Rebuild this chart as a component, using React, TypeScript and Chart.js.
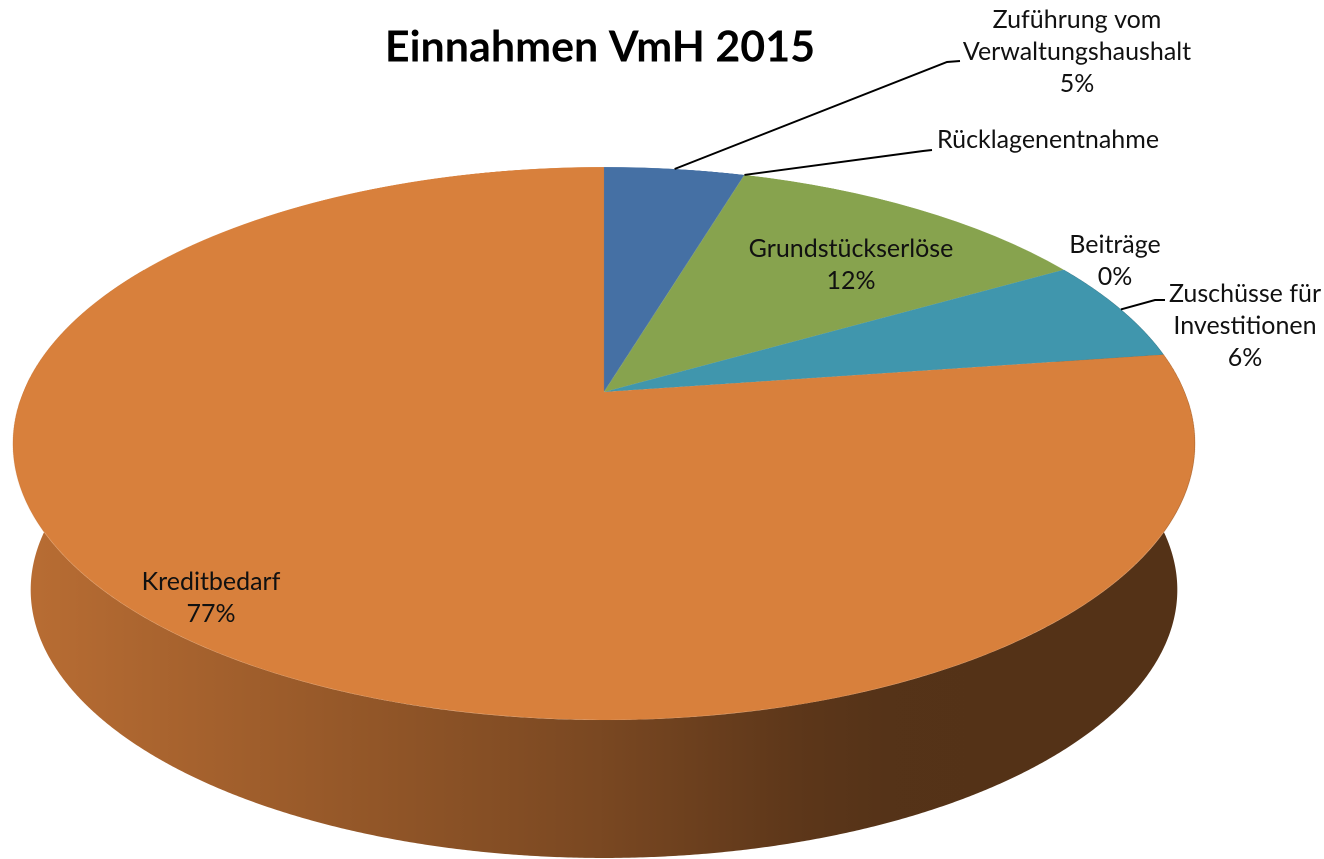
import React, { useEffect, useRef } from "react";
import { Chart, registerables } from "chart.js";

Chart.register(...registerables);

// ---------- data ----------
const chartTitle = "Einnahmen VmH 2015";
const categories = [
  "Zuführung vom Verwaltungshaushalt",
  "Rücklagenentnahme",
  "Grundstückserlöse",
  "Beiträge",
  "Zuschüsse für Investitionen",
  "Kreditbedarf",
];
const shares = [4.6, 0, 12.05, 0, 6.05, 77.3];
const labelLines = [
  ["Zuführung vom", "Verwaltungshaushalt"],
  ["Rücklagenentnahme"],
  ["Grundstückserlöse"],
  ["Beiträge"],
  ["Zuschüsse für", "Investitionen"],
  ["Kreditbedarf"],
];
const showPercent = [true, false, true, true, true, true];
const sliceColors = ["#4570A4", "#B84A47", "#87A34E", "#7D61A0", "#4096AD", "#D8803C"];

// ---------- view / styling ----------
const VIEW = { X0: 604, Y0: 392, Sx: 580.7, Sy: 266.9, k: 0.1863, bottomScale: 0.97, Y0b: 539.8 };
const WALL_FROM = Math.PI / 3;
const WALL_TO = (5 * Math.PI) / 3;
const WALL_SHADE: [number, number][] = [
  [0, 0.86],
  [0.285, 0.69],
  [0.497, 0.565],
  [0.666, 0.43],
  [0.742, 0.395],
  [1, 0.39],
];
const LABEL_FONT = "25px Lato";
const LINE_H = 32;
type Place = { cx: number; y: number; leader?: [number, number][] };
const LABEL_POS: Place[] = [
  { cx: 1077, y: 28, leader: [[947, 62], [960, 61]] },
  { cx: 1048, y: 148, leader: [[923, 151], [932, 150]] },
  { cx: 851, y: 257 },
  { cx: 1115, y: 253 },
  { cx: 1245, y: 302, leader: [[1155, 300], [1165, 300]] },
  { cx: 211, y: 590 },
];

function shade(hex: string, f: number) {
  const n = parseInt(hex.slice(1), 16);
  const r = Math.round(((n >> 16) & 255) * f);
  const g = Math.round(((n >> 8) & 255) * f);
  const b = Math.round((n & 255) * f);
  return `rgb(${r},${g},${b})`;
}

function proj(theta: number, bottom = false): [number, number] {
  const { X0, Y0, Sx, Sy, k, bottomScale, Y0b } = VIEW;
  const u = Math.sin(theta);
  const d = Math.cos(theta);
  const z = 1 + k * d;
  const s = bottom ? bottomScale : 1;
  const y0 = bottom ? Y0b : Y0;
  return [X0 + (s * Sx * u) / z, y0 - (s * Sy * d) / z];
}

const pie3d = {
  id: "pie3d",
  afterDatasetsDraw(chart: any) {
    const { X0, Y0, Sx, Sy, k } = VIEW;
    const meta = chart.getDatasetMeta(0);
    const arcs: any[] = meta.data;
    if (!arcs.length) return;
    const scx = arcs[0].x;
    const scy = arcs[0].y;
    const R = arcs[0].outerRadius;
    const dpr = chart.currentDevicePixelRatio || 1;
    const ctx: CanvasRenderingContext2D = chart.ctx;

    // copy the flat pie drawn by Chart.js
    const x0 = Math.floor(scx - R) - 2;
    const y0 = Math.floor(scy - R) - 2;
    const S = Math.ceil(2 * R) + 4;
    const off = document.createElement("canvas");
    off.width = Math.round(S * dpr);
    off.height = Math.round(S * dpr);
    const octx = off.getContext("2d")!;
    octx.drawImage(chart.canvas, x0 * dpr, y0 * dpr, S * dpr, S * dpr, 0, 0, S * dpr, S * dpr);

    ctx.save();
    ctx.clearRect(x0, y0, S, S);

    // side wall
    arcs.forEach((arc, i) => {
      const a = arc.startAngle + Math.PI / 2;
      const b = arc.endAngle + Math.PI / 2;
      const lo = Math.max(a, WALL_FROM);
      const hi = Math.min(b, WALL_TO);
      if (hi <= lo) return;
      const n = Math.max(2, Math.ceil((hi - lo) / 0.004));
      ctx.beginPath();
      for (let j = 0; j <= n; j++) {
        const p = proj(lo + ((hi - lo) * j) / n);
        if (j === 0) ctx.moveTo(p[0], p[1]);
        else ctx.lineTo(p[0], p[1]);
      }
      for (let j = n; j >= 0; j--) {
        const p = proj(lo + ((hi - lo) * j) / n, true);
        ctx.lineTo(p[0], p[1]);
      }
      ctx.closePath();
      const ext = Sx / Math.sqrt(1 - k * k);
      const g = ctx.createLinearGradient(X0 - ext, 0, X0 + ext, 0);
      const base = sliceColors[i % sliceColors.length];
      WALL_SHADE.forEach(([t, f]) => g.addColorStop(t, shade(base, f)));
      ctx.fillStyle = g;
      ctx.fill();
    });

    // top face: perspective row remap of the Chart.js pie
    ctx.setTransform(1, 0, 0, 1, 0, 0);
    ctx.imageSmoothingEnabled = true;
    (ctx as any).imageSmoothingQuality = "high";
    const yTop = Y0 - Sy / (1 + k);
    const yBot = Y0 + Sy / (1 - k);
    const lim = 1 + 1.5 / (R * dpr);
    for (let yb = Math.floor(yTop * dpr) - 1; yb <= Math.ceil(yBot * dpr) + 1; yb++) {
      const yc = (yb + 0.5) / dpr;
      const t = (Y0 - yc) / Sy;
      const d = t / (1 - k * t);
      if (d > lim || d < -lim) continue;
      const z = 1 + k * d;
      const srcY = (scy - d * R - y0) * dpr;
      const half = Sx / z;
      ctx.drawImage(
        off,
        (scx - R - x0) * dpr,
        srcY - 0.5,
        2 * R * dpr,
        1,
        (X0 - half) * dpr,
        yb,
        2 * half * dpr,
        1
      );
    }
    ctx.restore();

    // labels and leader lines
    const total = (chart.data.datasets[0].data as number[]).reduce((s, v) => s + v, 0);
    ctx.save();
    ctx.font = LABEL_FONT;
    ctx.textAlign = "center";
    ctx.textBaseline = "alphabetic";
    ctx.fillStyle = "#111";
    ctx.strokeStyle = "#000";
    ctx.lineWidth = 2;
    arcs.forEach((arc, i) => {
      const pos = LABEL_POS[i];
      const lines = [...labelLines[i]];
      if (showPercent[i]) lines.push(Math.round((shares[i] / total) * 100) + "%");
      lines.forEach((l, j) => ctx.fillText(l, pos.cx, pos.y + j * LINE_H));
      if (pos.leader) {
        const mid = (arc.startAngle + arc.endAngle) / 2 + Math.PI / 2;
        const p = proj(mid);
        ctx.beginPath();
        ctx.moveTo(p[0], p[1]);
        pos.leader.forEach((q) => ctx.lineTo(q[0], q[1]));
        ctx.stroke();
      }
    });
    ctx.restore();
  },
};

export default function App() {
  const ref = useRef<HTMLCanvasElement>(null);
  useEffect(() => {
    const chart = new Chart(ref.current!, {
      type: "pie",
      data: {
        labels: categories,
        datasets: [
          {
            data: shares,
            backgroundColor: sliceColors,
            borderWidth: 0,
            hoverOffset: 0,
          },
        ],
      },
      options: {
        responsive: false,
        animation: false,
        devicePixelRatio: 2,
        events: [],
        layout: { padding: { left: 0, right: 124, top: 0, bottom: 0 } },
        plugins: {
          legend: { display: false },
          tooltip: { enabled: false },
          title: {
            display: true,
            text: chartTitle,
            color: "#000",
            font: { family: "Lato", size: 43, weight: "bold" },
            padding: { top: 22, bottom: 10 },
          },
        },
      } as any,
      plugins: [pie3d as any],
    });
    return () => chart.destroy();
  }, []);
  return (
    <div style={{ position: "absolute", left: 0, top: 0, width: 1324, height: 859, background: "#fff" }}>
      <canvas ref={ref} width={1324} height={859} style={{ width: 1324, height: 859, display: "block" }} />
    </div>
  );
}
